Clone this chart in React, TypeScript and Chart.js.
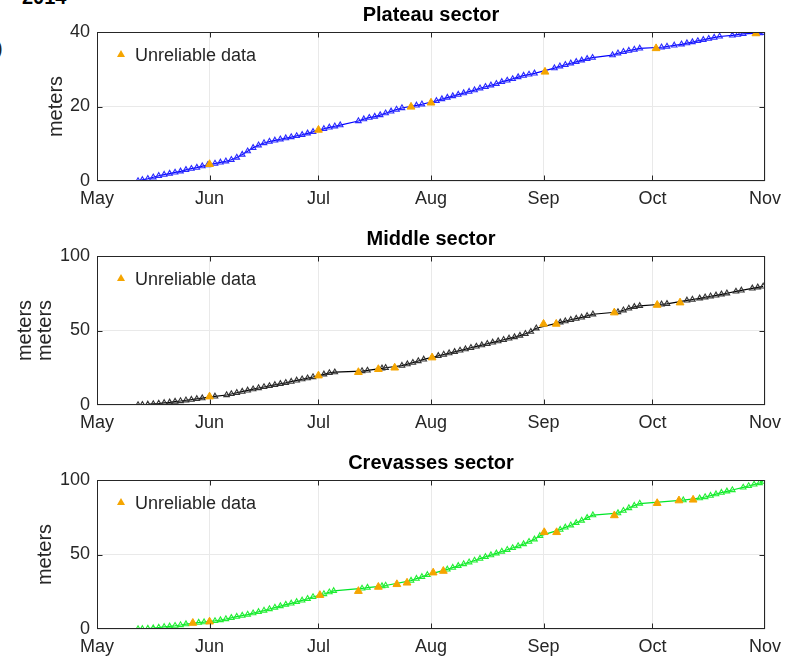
import React, { useEffect, useRef } from 'react';
import { Chart, registerables } from 'chart.js';

Chart.register(...registerables);

const FONT = '"Liberation Sans", Arial, Helvetica, sans-serif';

// x axis: days since 1 May 2014
const monthTickDays = [0, 31, 61, 92, 123, 153, 184];
const monthTickLabels = ['May', 'Jun', 'Jul', 'Aug', 'Sep', 'Oct', 'Nov'];

const plateauYTicks = [0, 20, 40];
const sectorYTicks = [0, 50, 100];

// Plateau sector (blue)
const plateauDays = [11.3, 12.5, 14, 15.5, 17, 18.5, 20, 21.5, 23, 24.5, 26, 27.5, 29, 30.5, 32.5, 34, 35.5, 37, 38.5, 40, 41.5, 43, 44.5, 46, 47.5, 49, 50.5, 52, 53.5, 55, 56.5, 58, 59.5, 62.5, 64, 65.5, 67, 72, 73.5, 75, 76.5, 78, 79.5, 81, 82.5, 84, 88, 89.5, 93.5, 95, 96.5, 98, 99.5, 101, 102.5, 104, 105.5, 107, 108.5, 110, 111.5, 113, 114.5, 116, 117.5, 119, 120.5, 126, 127.5, 129, 130.5, 132, 133.5, 135, 136.5, 142, 143.5, 145, 146.5, 148, 149.5, 155.5, 157, 159, 161, 162.5, 164, 165.5, 167, 168.5, 170, 171.5, 175, 176.5, 178, 182.5, 183.5];
const plateauValues = [0, 0.3, 0.6, 1.0, 1.4, 1.7, 2.0, 2.3, 2.6, 3.0, 3.3, 3.6, 4.0, 4.3, 4.7, 5.0, 5.3, 5.7, 6.3, 7.1, 8.0, 8.9, 9.6, 10.2, 10.6, 10.9, 11.2, 11.5, 11.8, 12.1, 12.4, 12.8, 13.2, 14.0, 14.4, 14.7, 15.0, 16.1, 16.6, 17.0, 17.3, 17.7, 18.2, 18.7, 19.2, 19.6, 20.3, 20.6, 21.5, 22.0, 22.4, 22.8, 23.2, 23.6, 24.0, 24.4, 24.9, 25.3, 25.7, 26.1, 26.6, 27.0, 27.4, 27.9, 28.3, 28.6, 28.9, 30.3, 30.8, 31.2, 31.6, 32.0, 32.4, 32.8, 33.1, 33.8, 34.3, 34.7, 35.0, 35.3, 35.6, 35.9, 36.1, 36.4, 36.7, 37.0, 37.3, 37.6, 37.9, 38.2, 38.5, 38.8, 39.1, 39.3, 39.5, 39.7, 39.8];
const plateauUnreliableDays = [31, 61, 86.5, 92, 123.4, 154, 181.5];
const plateauUnreliableValues = [4.5, 13.7, 19.9, 21.0, 29.3, 35.6, 39.6];

// Middle sector (black)
const middleDays = [11.3, 12.5, 14, 15.5, 17, 18.5, 20, 21.5, 23, 24.5, 26, 27.5, 29, 32.5, 35.7, 37, 38.5, 40, 41.5, 43, 44.5, 46, 47.5, 49, 50.5, 52, 53.5, 55, 56.5, 58, 59.5, 62.5, 64, 65.5, 73, 74.5, 78.5, 79.5, 84, 85.5, 87, 88.5, 90, 94, 95.5, 97, 98.5, 100, 101.5, 103, 104.5, 106, 107.5, 109, 110.5, 112, 113.5, 115, 116.5, 118, 119.5, 121, 127.6, 129, 130.5, 132, 133.5, 135, 136.6, 143.5, 145, 146.5, 148, 149.5, 155.5, 157, 162.5, 164, 166, 167.5, 169, 170.5, 172, 173.5, 176, 177.5, 180.5, 182, 183.5];
const middleValues = [0, 0.2, 0.4, 0.7, 1.0, 1.4, 1.8, 2.3, 2.7, 3.2, 3.6, 4.1, 4.6, 5.8, 6.7, 7.4, 8.2, 9.0, 9.8, 10.6, 11.4, 12.1, 12.8, 13.5, 14.2, 14.9, 15.7, 16.5, 17.3, 18.0, 18.8, 20.6, 21.5, 22.0, 22.8, 23.2, 24.6, 25.0, 26.4, 27.4, 28.4, 29.5, 30.6, 33.0, 33.9, 34.8, 35.7, 36.6, 37.5, 38.4, 39.3, 40.2, 41.1, 42.0, 42.9, 43.8, 44.7, 45.6, 46.6, 47.8, 49.2, 51.5, 55.5, 56.3, 57.2, 58.0, 58.8, 59.8, 60.9, 62.4, 63.6, 64.8, 65.9, 66.5, 67.6, 67.9, 70.2, 70.8, 71.6, 72.3, 73.0, 73.6, 74.3, 75.0, 76.2, 76.9, 78.3, 79.0, 79.6];
const middleUnreliableDays = [31, 61, 72, 77.5, 82, 92.3, 123, 126.5, 142.5, 154.3, 160.6];
const middleUnreliableValues = [5.6, 19.7, 22.0, 24.0, 25.0, 31.8, 54.4, 54.4, 62.0, 67.1, 68.7];

// Crevasses sector (green)
const crevassesDays = [11.3, 12.5, 14, 15.5, 17, 18.5, 20, 21.5, 23, 24.5, 28, 29.5, 32.5, 34, 35.5, 37, 38.5, 40, 41.5, 43, 44.5, 46, 47.5, 49, 50.5, 52, 53.5, 55, 56.5, 58, 59.5, 62.5, 64, 65.2, 73, 74.5, 78.5, 79.5, 86.5, 88, 89.5, 91, 96.5, 98, 99.5, 101, 102.5, 104, 105.5, 107, 108.5, 110, 111.5, 113, 114.5, 116, 117.5, 119, 120.5, 122, 127.6, 129, 130.5, 132, 133.5, 135, 136.6, 143.5, 145, 146.5, 148, 149.5, 161.5, 166, 167.5, 169, 170.5, 172, 173.5, 175, 178, 179.5, 181, 182.5, 183.5];
const crevassesValues = [0, 0.1, 0.3, 0.6, 1.0, 1.4, 1.8, 2.2, 2.7, 3.3, 4.3, 4.6, 5.4, 6.0, 6.7, 7.5, 8.3, 9.0, 9.7, 10.6, 11.5, 12.4, 13.4, 14.4, 15.4, 16.4, 17.2, 18.2, 19.2, 20.3, 21.5, 23.5, 24.7, 25.6, 27.2, 27.8, 28.8, 29.2, 32.5, 33.8, 35.0, 36.3, 40.0, 41.2, 42.4, 43.6, 44.8, 46.0, 47.2, 48.4, 49.6, 50.8, 52.0, 53.2, 54.4, 55.7, 57.0, 58.6, 60.2, 62.5, 66.7, 68.2, 69.6, 71.2, 72.8, 74.6, 76.4, 77.8, 79.4, 81.2, 82.8, 84.2, 86.5, 87.8, 88.6, 89.5, 90.5, 91.5, 92.4, 93.3, 95.0, 96.0, 97.0, 98.0, 98.9];
const crevassesUnreliableDays = [26.4, 31, 61.4, 72, 77.5, 82.6, 85.4, 92.6, 95.4, 123.2, 126.6, 142.5, 154.3, 160.3, 164.2];
const crevassesUnreliableValues = [4.0, 4.9, 22.7, 25.4, 28.2, 30.0, 31.0, 37.8, 38.9, 64.9, 64.9, 76.2, 84.4, 86.2, 86.7];

const UNRELIABLE_COLOR = '#f5a500';
const TEXT_COLOR = '#262626';
const GRID_COLOR = '#e9e9e9';

const decorPlugin = {
  id: 'decor',
  afterDraw(chart: any, _args: any, opts: any) {
    const { ctx, chartArea } = chart;
    const { left, right, top, bottom } = chartArea;
    ctx.save();
    // frame (box on)
    ctx.strokeStyle = TEXT_COLOR;
    ctx.lineWidth = 1;
    const l = Math.round(left) + 0.5;
    const r = Math.round(right) - 0.5;
    const t = Math.round(top) + 0.5;
    const b = Math.round(bottom) - 0.5;
    ctx.strokeRect(l, t, r - l, b - t);
    // inward tick marks on all sides
    ctx.beginPath();
    const xs = chart.scales.x;
    xs.ticks.forEach((tk: any) => {
      const px = Math.round(xs.getPixelForValue(tk.value)) + 0.5;
      if (px <= l + 1 || px >= r - 1) return;
      ctx.moveTo(px, b); ctx.lineTo(px, b - 5);
      ctx.moveTo(px, t); ctx.lineTo(px, t + 5);
    });
    const ys = chart.scales.y;
    ys.ticks.forEach((tk: any) => {
      const py = Math.round(ys.getPixelForValue(tk.value)) + 0.5;
      if (py <= t + 1 || py >= b - 1) return;
      ctx.moveTo(l, py); ctx.lineTo(l + 5, py);
      ctx.moveTo(r, py); ctx.lineTo(r - 5, py);
    });
    ctx.stroke();
    // title
    ctx.fillStyle = '#000';
    ctx.font = `bold 20px ${FONT}`;
    ctx.textAlign = 'center';
    ctx.textBaseline = 'middle';
    ctx.fillText(opts.title, (left + right) / 2, 15.5);
    // legend inside the axes
    const cx = left + 24;
    const cy = top + 22;
    ctx.fillStyle = UNRELIABLE_COLOR;
    ctx.beginPath();
    ctx.moveTo(cx, cy - 4);
    ctx.lineTo(cx + 4, cy + 3);
    ctx.lineTo(cx - 4, cy + 3);
    ctx.closePath();
    ctx.fill();
    ctx.fillStyle = TEXT_COLOR;
    ctx.font = `18px ${FONT}`;
    ctx.textAlign = 'left';
    ctx.fillText(opts.legend, left + 38, top + 24);
    ctx.restore();
  },
};

type PanelProps = {
  title: string;
  days: number[];
  values: number[];
  uDays: number[];
  uValues: number[];
  color: string;
  markerColor: string;
  yMax: number;
  yTicks: number[];
  yTitle: string | string[];
  yTitlePad: number;
  yTitleLineHeight: number;
  top: number;
  height: number;
};

function Panel(p: PanelProps) {
  const ref = useRef<HTMLCanvasElement | null>(null);
  useEffect(() => {
    if (!ref.current) return;
    const xAxisHeight = p.height - 181;
    const chart = new Chart(ref.current, {
      type: 'scatter',
      data: {
        datasets: [
          {
            label: 'Unreliable data',
            data: p.uDays.map((d, i) => ({ x: d, y: p.uValues[i] })),
            pointStyle: 'triangle',
            pointRadius: 4.5,
            pointBackgroundColor: UNRELIABLE_COLOR,
            pointBorderColor: UNRELIABLE_COLOR,
            pointBorderWidth: 1,
            showLine: false,
            order: 0,
          },
          {
            label: p.title,
            data: p.days.map((d, i) => ({ x: d, y: p.values[i] })),
            showLine: true,
            borderColor: p.color,
            borderWidth: 1.2,
            pointStyle: 'triangle',
            pointRadius: 3.2,
            pointBorderWidth: 1.1,
            pointBackgroundColor: 'rgba(0,0,0,0)',
            pointBorderColor: p.markerColor,
            tension: 0,
            order: 1,
          },
        ],
      },
      options: {
        animation: false,
        responsive: false,
        devicePixelRatio: 1,
        layout: { padding: { top: 32, right: 35, left: 0, bottom: 0 } },
        plugins: {
          legend: { display: false },
          tooltip: { enabled: false },
          title: { display: false },
          decor: { title: p.title, legend: 'Unreliable data' },
        } as any,
        scales: {
          x: {
            type: 'linear',
            min: 0,
            max: 184,
            afterBuildTicks: (s: any) => {
              s.ticks = monthTickDays.map((v) => ({ value: v }));
            },
            afterFit: (s: any) => {
              s.height = xAxisHeight;
            },
            grid: { color: GRID_COLOR, drawTicks: false, lineWidth: 1 },
            border: { display: false },
            ticks: {
              autoSkip: false,
              maxRotation: 0,
              padding: 7,
              color: TEXT_COLOR,
              font: { family: FONT, size: 18 },
              callback: (v: any) => {
                const i = monthTickDays.indexOf(Number(v));
                return i >= 0 ? monthTickLabels[i] : '';
              },
            },
          },
          y: {
            type: 'linear',
            min: 0,
            max: p.yMax,
            afterBuildTicks: (s: any) => {
              s.ticks = p.yTicks.map((v) => ({ value: v }));
            },
            afterFit: (s: any) => {
              s.width = 97;
            },
            grid: { color: GRID_COLOR, drawTicks: false, lineWidth: 1 },
            border: { display: false },
            ticks: {
              padding: 7,
              color: TEXT_COLOR,
              font: { family: FONT, size: 18 },
            },
            title: {
              display: true,
              text: p.yTitle,
              color: TEXT_COLOR,
              font: { family: FONT, size: 20, lineHeight: p.yTitleLineHeight },
              padding: { top: p.yTitlePad, bottom: 0 },
            },
          },
        },
      } as any,
      plugins: [decorPlugin],
    });
    return () => chart.destroy();
  }, []);
  return (
    <canvas
      ref={ref}
      width={800}
      height={p.height}
      style={{ position: 'absolute', left: 0, top: p.top, width: 800, height: p.height, display: 'block' }}
    />
  );
}

export default function App() {
  return (
    <div
      style={{
        position: 'absolute',
        left: 0,
        top: 0,
        width: 800,
        height: 662,
        overflow: 'hidden',
        background: '#fff',
        fontFamily: FONT,
      }}
    >
      <div style={{ position: 'absolute', left: 22, top: -13, fontWeight: 'bold', fontSize: 20, lineHeight: '20px', color: '#000' }}>
        2014
      </div>
      <div style={{ position: 'absolute', left: -4, top: 38, fontSize: 20, lineHeight: '20px', color: '#222' }}>)</div>
      <Panel
        title="Plateau sector"
        days={plateauDays}
        values={plateauValues}
        uDays={plateauUnreliableDays}
        uValues={plateauUnreliableValues}
        color="#0000ff"
        markerColor="#2a2aff"
        yMax={40}
        yTicks={plateauYTicks}
        yTitle="meters"
        yTitlePad={44}
        yTitleLineHeight={1.2}
        top={0}
        height={224}
      />
      <Panel
        title="Middle sector"
        days={middleDays}
        values={middleValues}
        uDays={middleUnreliableDays}
        uValues={middleUnreliableValues}
        color="#000000"
        markerColor="#333333"
        yMax={100}
        yTicks={sectorYTicks}
        yTitle={['meters', 'meters']}
        yTitlePad={15}
        yTitleLineHeight={1}
        top={224}
        height={224}
      />
      <Panel
        title="Crevasses sector"
        days={crevassesDays}
        values={crevassesValues}
        uDays={crevassesUnreliableDays}
        uValues={crevassesUnreliableValues}
        color="#00e628"
        markerColor="#22ee33"
        yMax={100}
        yTicks={sectorYTicks}
        yTitle="meters"
        yTitlePad={33}
        yTitleLineHeight={1.2}
        top={448}
        height={214}
      />
    </div>
  );
}
